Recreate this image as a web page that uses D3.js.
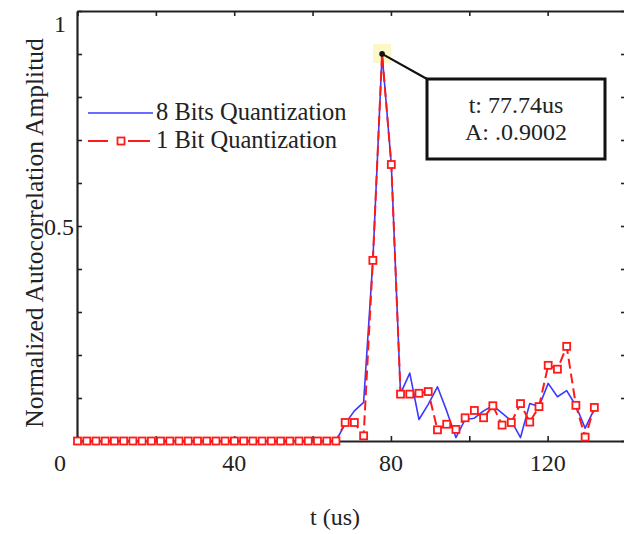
<!DOCTYPE html>
<html>
<head>
<meta charset="utf-8">
<script src="https://cdn.jsdelivr.net/npm/d3@7"></script>
<style>
  html, body { margin: 0; padding: 0; background: #fff; }
  svg { display: block; }
  text { font-family: "Liberation Serif", "Times New Roman", serif; fill: #222; }
</style>
</head>
<body>
<svg id="chart" width="624" height="534"></svg>
<script>
// ---- data ----
const timeUs = [0, 2.36, 4.71, 7.07, 9.42, 11.78, 14.13, 16.49, 18.85, 21.2, 23.56, 25.91, 28.27, 30.63,
  32.98, 35.34, 37.69, 40.05, 42.4, 44.76, 47.12, 49.47, 51.83, 54.18, 56.54, 58.9, 61.25, 63.61,
  65.96, 68.32, 70.67, 73.03, 75.39, 77.74, 80.1, 82.45, 84.81, 87.16, 89.52, 91.88, 94.23, 96.59,
  98.94, 101.3, 103.65, 106.01, 108.37, 110.72, 113.08, 115.43, 117.79, 120.14, 122.5, 124.86,
  127.21, 129.57, 131.92];
const bits8 = [0, 0, 0, 0, 0, 0, 0, 0, 0, 0, 0, 0, 0, 0,
  0, 0, 0, 0, 0, 0, 0, 0, 0, 0, 0, 0, 0, 0,
  0, 0.04, 0.07, 0.09, 0.42, 0.9002, 0.643, 0.11, 0.158, 0.05, 0.085, 0.126, 0.07, 0.008,
  0.05, 0.053, 0.07, 0.082, 0.065, 0.047, 0.008, 0.087, 0.08, 0.134, 0.103, 0.117,
  0.082, 0.03, 0.074];
const bits1 = [0, 0, 0, 0, 0, 0, 0, 0, 0, 0, 0, 0, 0, 0,
  0, 0, 0, 0, 0, 0, 0, 0, 0, 0, 0, 0, 0, 0,
  0, 0.043, 0.043, 0.012, 0.42, 0.9002, 0.643, 0.109, 0.109, 0.111, 0.115, 0.026, 0.039, 0.027,
  0.054, 0.071, 0.054, 0.082, 0.037, 0.043, 0.087, 0.044, 0.08, 0.176, 0.167, 0.22,
  0.083, 0.009, 0.078];
const seriesNames = ["8 Bits Quantization", "1 Bit Quantization"];
const xTickValues = [0, 20, 40, 60, 80, 100, 120, 140];
const xTickLabels = ["0", "40", "80", "120"];
const yTickValues = [0, 0.1, 0.2, 0.3, 0.4, 0.5, 0.6, 0.7, 0.8, 0.9, 1];
const yTickLabels = ["0.5", "1"];
const tipIndex = 33;
const tipLines = ["t: 77.74us", "A: .0.9002"];
const xTitle = "t (us)";
const yTitle = "Normalized Autocorrelation Amplitud";

// ---- layout ----
const svg = d3.select("#chart");
const x = d3.scaleLinear().domain([0, 140]).range([77.5, 626]);
const y = d3.scaleLinear().domain([0, 1]).range([441, 11]);
const axisColor = "#222";
const blue = "#3a3aff";
const red = "#ff1a1a";

// ticks
const gB = svg.append("g").attr("transform", `translate(0,${y(0)})`)
  .call(d3.axisBottom(x).tickValues(xTickValues).tickSize(-5).tickSizeOuter(0).tickFormat(""));
const gT = svg.append("g").attr("transform", `translate(0,${y(1)})`)
  .call(d3.axisTop(x).tickValues(xTickValues).tickSize(-5).tickSizeOuter(0).tickFormat(""));
const gL = svg.append("g").attr("transform", `translate(${x(0) - 0.5},0)`)
  .call(d3.axisLeft(y).tickValues(yTickValues).tickSize(-5).tickSizeOuter(0).tickFormat(""));
const gR = svg.append("g").attr("transform", `translate(${x(140)},0)`)
  .call(d3.axisRight(y).tickValues(yTickValues).tickSize(-5).tickSizeOuter(0).tickFormat(""));
[gB, gT, gL, gR].forEach(g => {
  g.select(".domain").attr("stroke", axisColor).attr("stroke-width", 2.2);
  g.selectAll(".tick line").attr("stroke", axisColor).attr("stroke-width", 1.6);
});

// tick labels
svg.append("g").selectAll("text").data(xTickLabels).join("text")
  .attr("x", d => x(+d) + (+d === 0 ? -17.5 : 0))
  .attr("y", 471)
  .attr("text-anchor", "middle")
  .attr("font-size", 24)
  .text(d => d);
svg.append("g").selectAll("text").data(yTickLabels).join("text")
  .attr("x", d => +d === 1 ? 60 : 74)
  .attr("y", d => y(+d) + (+d === 1 ? 21 : 9))
  .attr("text-anchor", d => +d === 1 ? "middle" : "end")
  .attr("font-size", 24)
  .text(d => d);

// axis titles
svg.append("text").attr("x", 335).attr("y", 525).attr("text-anchor", "middle")
  .attr("font-size", 24).text(xTitle);
svg.append("text").attr("transform", "translate(43,233) rotate(-90)")
  .attr("text-anchor", "middle").attr("font-size", 25.5).text(yTitle);

// datatip highlight
const tx = x(timeUs[tipIndex]), ty = y(bits8[tipIndex]);
svg.append("rect").attr("x", tx - 9).attr("y", ty - 10).attr("width", 18).attr("height", 19)
  .attr("fill", "#fbf7c8");

// lines
const line = (vals) => d3.line().x((d, i) => x(timeUs[i])).y(d => y(d))(vals);
svg.append("path").attr("d", line(bits8)).attr("fill", "none")
  .attr("stroke", blue).attr("stroke-width", 1.6).attr("stroke-linejoin", "round");
svg.append("path").attr("d", line(bits1)).attr("fill", "none")
  .attr("stroke", red).attr("stroke-width", 2).attr("stroke-dasharray", "10,5");

// markers
const pts = timeUs.map((t, i) => ({ t, v: bits1[i], i })).filter(d => d.i !== tipIndex);
svg.append("g").selectAll("rect").data(pts).join("rect")
  .attr("x", d => x(d.t) - 3.5).attr("y", d => y(d.v) - 3.5)
  .attr("width", 7).attr("height", 7)
  .attr("fill", "#fff").attr("stroke", red).attr("stroke-width", 1.8);

// datatip annotation
const box = { x: 427, y: 79, w: 178, h: 80 };
svg.append("line").attr("x1", tx).attr("y1", ty).attr("x2", box.x).attr("y2", box.y)
  .attr("stroke", "#111").attr("stroke-width", 2.2);
svg.append("circle").attr("cx", tx).attr("cy", ty).attr("r", 2.8).attr("fill", "#111");
svg.append("rect").attr("x", box.x).attr("y", box.y).attr("width", box.w).attr("height", box.h)
  .attr("fill", "#fff").attr("stroke", "#111").attr("stroke-width", 3);
svg.append("g").selectAll("text").data(tipLines).join("text")
  .attr("x", box.x + box.w / 2).attr("y", (d, i) => box.y + 34 + i * 27)
  .attr("text-anchor", "middle").attr("font-size", 24).text(d => d);

// legend
const legY = [113, 141];
const lg = svg.append("g");
lg.append("line").attr("x1", 88).attr("x2", 153).attr("y1", legY[0]).attr("y2", legY[0])
  .attr("stroke", blue).attr("stroke-width", 1.6);
lg.append("line").attr("x1", 88).attr("x2", 108).attr("y1", legY[1]).attr("y2", legY[1])
  .attr("stroke", red).attr("stroke-width", 2);
lg.append("line").attr("x1", 128).attr("x2", 150).attr("y1", legY[1]).attr("y2", legY[1])
  .attr("stroke", red).attr("stroke-width", 2);
lg.append("rect").attr("x", 117.5).attr("y", legY[1] - 3.5).attr("width", 7).attr("height", 7)
  .attr("fill", "#fff").attr("stroke", red).attr("stroke-width", 1.8);
lg.selectAll("text").data(seriesNames).join("text")
  .attr("x", 156).attr("y", (d, i) => legY[i] + 7)
  .attr("font-size", 24.5).text(d => d);
</script>
</body>
</html>
